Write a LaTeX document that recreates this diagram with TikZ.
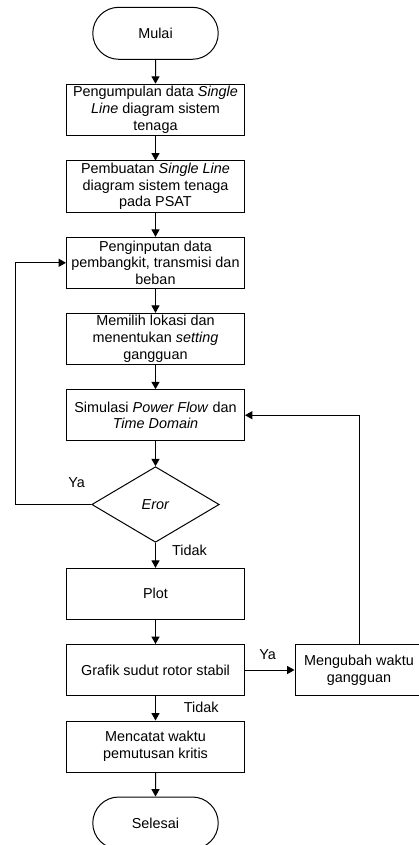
\documentclass[tikz,border=0pt]{standalone}
\usepackage{fontspec}
\setmainfont{Liberation Sans}
\usetikzlibrary{arrows.meta,shapes.geometric,shapes.misc}
\tikzset{every picture/.style={line width=0.75pt}}

\begin{document}
\begin{tikzpicture}[x=0.75pt,y=0.75pt,yscale=-1,xscale=1,
  font=\fontsize{10.8}{12.5}\selectfont,
  prosesbox/.style={draw, rectangle, minimum width=133.5pt, minimum height=38.25pt, inner sep=0.75pt, align=center},
  terminal/.style={draw, rounded rectangle, minimum width=95.6pt, minimum height=39pt, inner sep=0.75pt},
  keputusan/.style={draw, diamond, minimum width=95.6pt, minimum height=56.7pt, inner sep=0pt},
  panah/.style={-{Triangle[length=5.5pt,width=6pt]}}]
\useasboundingbox (0,0) rectangle (418,845);

%Terminal
\node [terminal] (mulai) at (155.5,33.3) {Mulai};
%Proses
\node [prosesbox] (kumpul) at (155.5,109.7) {Pengumpulan data \textit{Single}\\\textit{Line} diagram sistem\\tenaga};
\node [prosesbox] (buat) at (155.5,186.5) {Pembuatan \textit{Single Line}\\diagram sistem tenaga\\pada PSAT};
\node [prosesbox] (input) at (155.5,262.8) {Penginputan data\\pembangkit, transmisi dan\\beban};
\node [prosesbox] (lokasi) at (155.5,338.8) {Memilih lokasi dan\\menentukan \textit{setting}\\gangguan};
\node [prosesbox] (simulasi) at (155.5,415.2) {Simulasi \textit{Power Flow} dan\\\textit{Time Domain}};
%Keputusan
\node [keputusan] (eror) at (155.5,504.5) {\textit{Eror}};
\node [prosesbox] (plot) at (155.5,593.8) {Plot};
\node [prosesbox] (grafik) at (155.5,670) {Grafik sudut rotor stabil};
\node [prosesbox, minimum width=96pt] (ubah) at (359,670) {Mengubah waktu\\gangguan};
\node [prosesbox] (catat) at (155.5,746.5) {Mencatat waktu\\pemutusan kritis};
%Terminal
\node [terminal] (selesai) at (155.5,823) {Selesai};

%Alur utama
\draw [panah] (mulai) -- (kumpul);
\draw [panah] (kumpul) -- (buat);
\draw [panah] (buat) -- (input);
\draw [panah] (input) -- (lokasi);
\draw [panah] (lokasi) -- (simulasi);
\draw [panah] (simulasi) -- (eror);
\draw [panah] (eror) -- (plot);
\draw [panah] (plot) -- (grafik);
\draw [panah] (grafik) -- (catat);
\draw [panah] (catat) -- (selesai);
\draw [panah] (grafik) -- (ubah);
%Umpan balik
\draw [panah] (eror.west) -- ++(-76,0) |- (input.west);
\draw [panah] (ubah.north) |- (simulasi.east);

% Text Node
\node (ya1) at (76.7,483) {Ya};
\node (tidak1) at (189.5,550) {Tidak};
\node (ya2) at (267.7,655) {Ya};
\node (tidak2) at (201.3,707.7) {Tidak};
\end{tikzpicture}
\end{document}
